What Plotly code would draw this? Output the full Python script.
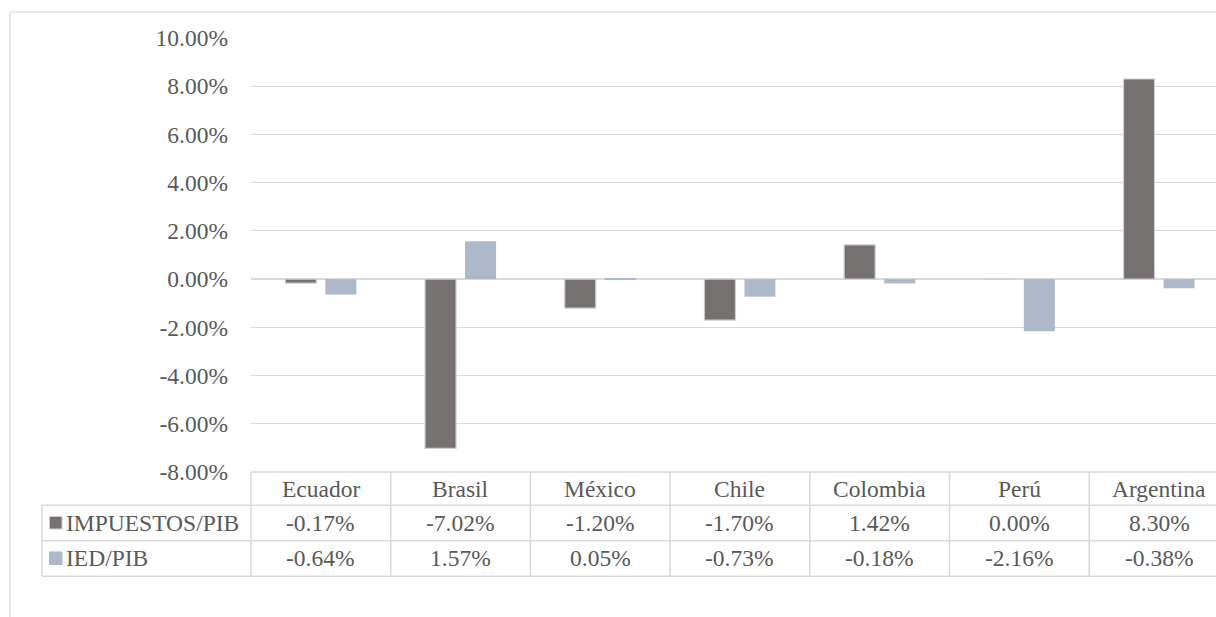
import plotly.graph_objects as go

categories = ["Ecuador", "Brasil", "México", "Chile", "Colombia", "Perú", "Argentina"]
impuestos_pib = [-0.17, -7.02, -1.20, -1.70, 1.42, 0.00, 8.30]
ied_pib = [-0.64, 1.57, 0.05, -0.73, -0.18, -2.16, -0.38]
series_names = ["IMPUESTOS/PIB", "IED/PIB"]
y_ticks = [-8, -6, -4, -2, 0, 2, 4, 6, 8, 10]

W, H = 1216, 617
PX0, PX1, PY0, PY1 = 251, 1216, 38, 471.8
COLW = 139.7
FONT = "Liberation Serif"
TXT = "#595959"
GRID = "#d9d9d9"
C1, C2 = "#767171", "#adb9ca"


def pxx(px):
    return (px - PX0) / (PX1 - PX0)


def pxy(py):
    return (PY1 - py) / (PY1 - PY0)


x_idx = list(range(len(categories)))

fig = go.Figure()
fig.add_trace(go.Bar(x=x_idx, y=impuestos_pib, name=series_names[0],
                     marker=dict(color=C1, line=dict(color="#cfcdcd", width=1.2))))
fig.add_trace(go.Bar(x=x_idx, y=ied_pib, name=series_names[1],
                     marker=dict(color=C2, line=dict(color=C2, width=0))))

shapes = []
# outer chart border
shapes.append(dict(type="rect", xref="paper", yref="paper",
                   x0=pxx(10), x1=pxx(1300), y0=pxy(12), y1=pxy(700),
                   line=dict(color=GRID, width=1.2), fillcolor="rgba(0,0,0,0)", layer="below"))

row_y = [471.8, 505, 540.5, 576]
# horizontal table lines
shapes.append(dict(type="line", xref="paper", yref="paper", x0=pxx(251), x1=pxx(1300),
                   y0=pxy(row_y[0]), y1=pxy(row_y[0]), line=dict(color=GRID, width=1.5)))
for ry in row_y[1:]:
    shapes.append(dict(type="line", xref="paper", yref="paper", x0=pxx(42), x1=pxx(1300),
                       y0=pxy(ry), y1=pxy(ry), line=dict(color=GRID, width=1.5)))
# vertical table lines
shapes.append(dict(type="line", xref="paper", yref="paper", x0=pxx(42), x1=pxx(42),
                   y0=pxy(row_y[1]), y1=pxy(row_y[3]), line=dict(color=GRID, width=1.5)))
for i in range(len(categories)):
    xb = PX0 + i * COLW
    shapes.append(dict(type="line", xref="paper", yref="paper", x0=pxx(xb), x1=pxx(xb),
                       y0=pxy(row_y[0]), y1=pxy(row_y[3]), line=dict(color=GRID, width=1.5)))
# legend keys
for k, (col, lc) in enumerate([(C1, "#cfcdcd"), (C2, C2)]):
    cy = (row_y[k + 1] + row_y[k + 2]) / 2
    shapes.append(dict(type="rect", xref="paper", yref="paper",
                       x0=pxx(49.5), x1=pxx(62), y0=pxy(cy - 6.5), y1=pxy(cy + 6),
                       line=dict(color=lc, width=1), fillcolor=col))

annotations = []
fs = 23.5
for i, c in enumerate(categories):
    cx = PX0 + (i + 0.5) * COLW
    annotations.append(dict(text=c, x=pxx(cx), y=pxy((row_y[0] + row_y[1]) / 2), xref="paper",
                            yref="paper", showarrow=False, xanchor="center", yanchor="middle",
                            font=dict(family=FONT, size=fs, color=TXT)))
    for k, vals in enumerate([impuestos_pib, ied_pib]):
        annotations.append(dict(text=f"{vals[i]:.2f}%", x=pxx(cx),
                                y=pxy((row_y[k + 1] + row_y[k + 2]) / 2), xref="paper",
                                yref="paper", showarrow=False, xanchor="center", yanchor="middle",
                                font=dict(family=FONT, size=fs, color=TXT)))
for k, nm in enumerate(series_names):
    annotations.append(dict(text=nm, x=pxx(64), y=pxy((row_y[k + 1] + row_y[k + 2]) / 2),
                            xref="paper", yref="paper", showarrow=False, xanchor="left",
                            yanchor="middle", font=dict(family=FONT, size=fs, color=TXT)))

fig.update_layout(
    width=W, height=H,
    margin=dict(l=PX0, r=W - PX1, t=PY0, b=H - PY1, pad=0),
    paper_bgcolor="white", plot_bgcolor="white",
    font=dict(family=FONT, color=TXT),
    showlegend=False,
    barmode="group", bargap=0.427, bargroupgap=0.225,
    xaxis=dict(range=[-0.5, -0.5 + (PX1 - PX0) / COLW], showticklabels=False,
               showgrid=False, zeroline=False, showline=False, ticks=""),
    yaxis=dict(range=[-8, 10], tickvals=y_ticks, ticktext=[f"{v:.2f}%" for v in y_ticks],
               showgrid=True, gridcolor=GRID, gridwidth=1.2, zeroline=True,
               zerolinecolor=GRID, zerolinewidth=1.5, showline=False, ticks="",
               ticklabelstandoff=22,
               tickfont=dict(family=FONT, size=fs, color=TXT)),
    shapes=shapes, annotations=annotations,
)

fig.write_html("out.html")
